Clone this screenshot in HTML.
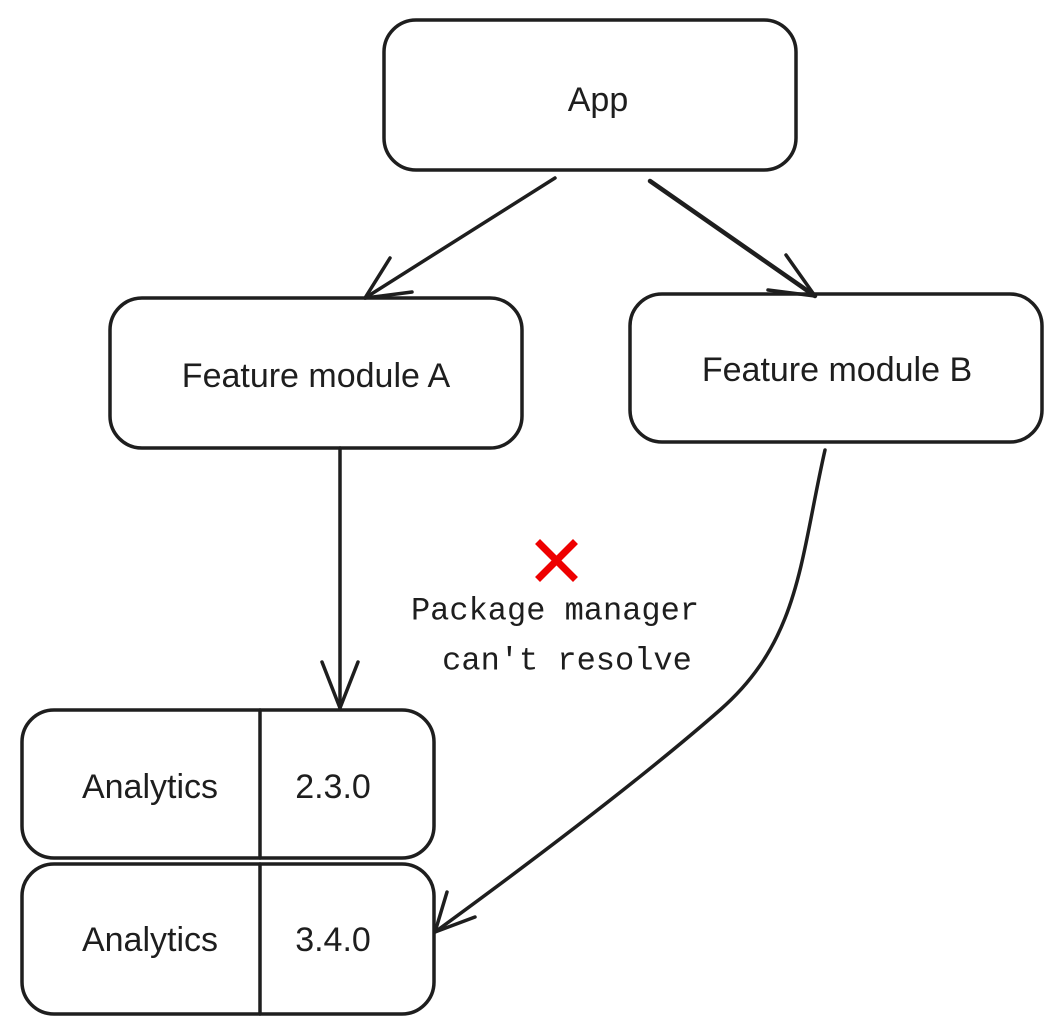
<!DOCTYPE html>
<html><head><meta charset="utf-8"><style>
html,body{margin:0;padding:0;background:#fff;}
svg{display:block;}
text{font-family:"Liberation Sans",sans-serif;fill:#1e1e1e;}
.m{font-family:"Liberation Mono",monospace;}
</style></head><body>
<svg width="1062" height="1034" viewBox="0 0 1062 1034" xmlns="http://www.w3.org/2000/svg">
<g fill="none" stroke="#1e1e1e" stroke-width="3.5" stroke-linecap="round" stroke-linejoin="round">
<rect x="384" y="20" width="412" height="150" rx="32"/>
<rect x="110" y="298" width="412" height="150" rx="32"/>
<rect x="630" y="294" width="412" height="148" rx="32"/>
<rect x="22" y="710" width="412" height="148" rx="32"/>
<line x1="260" y1="710" x2="260" y2="858"/>
<rect x="22" y="864" width="412" height="150" rx="32"/>
<line x1="260" y1="864" x2="260" y2="1014"/>
<!-- arrows -->
<line x1="555" y1="178" x2="365" y2="298"/>
<polyline points="390,258 365,298 412,292"/>
<line x1="650" y1="181" x2="815" y2="296" stroke-width="4.5"/>
<polyline points="786,255 815,296 768,290"/>
<line x1="340" y1="448" x2="340" y2="708"/>
<polyline points="322,662 340,708 358,662"/>
<path d="M825,450 C800,560 800,640 720,710 C640,780 520,870 435,932"/>
<polyline points="447,892 435,932 475,917"/>
</g>
<g stroke="#e00" stroke-width="7" stroke-linecap="square">
<line x1="540" y1="544" x2="573" y2="577"/>
<line x1="573" y1="544" x2="540" y2="577"/>
</g>
<g font-size="34" text-anchor="middle" dominant-baseline="central">
<text x="598" y="100">App</text>
<text x="316" y="376">Feature module A</text>
<text x="837" y="370">Feature module B</text>
<text x="150" y="787">Analytics</text>
<text x="333" y="787">2.3.0</text>
<text x="150" y="940">Analytics</text>
<text x="333" y="940">3.4.0</text>
<text class="m" x="555" y="611" font-size="32">Package manager</text>
<text class="m" x="567" y="661" font-size="32">can't resolve</text>
</g>
</svg>
</body></html>
